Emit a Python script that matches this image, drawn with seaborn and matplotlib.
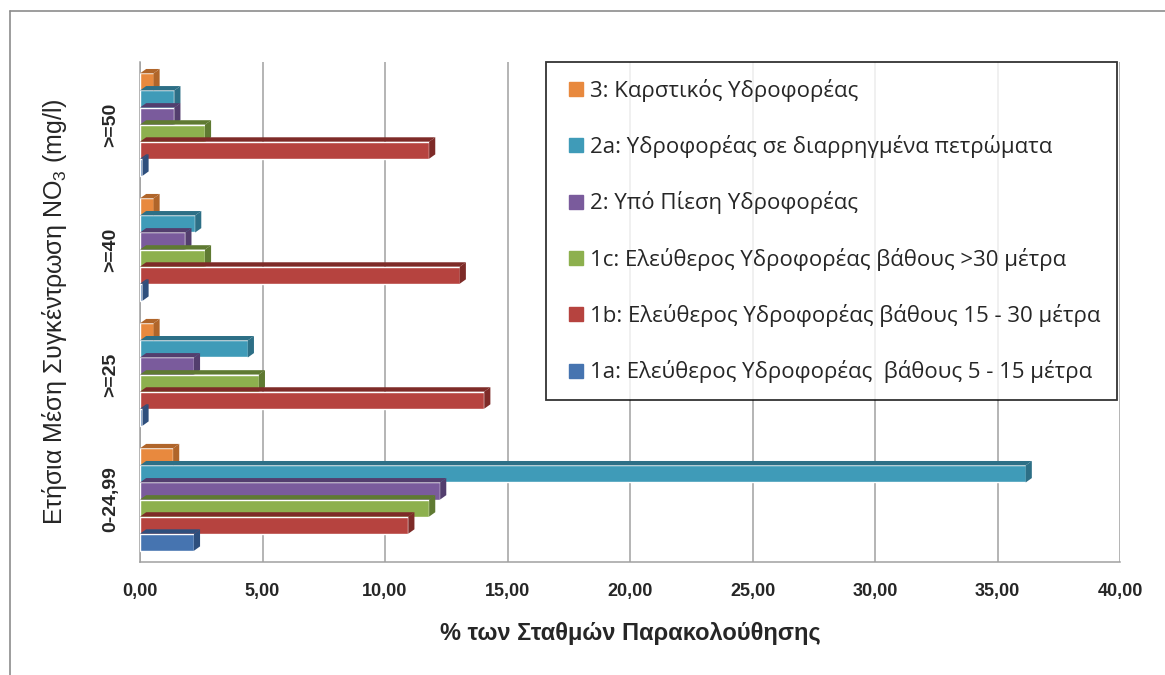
import pandas as pd
import matplotlib.pyplot as plt
import seaborn as sns
from matplotlib.patches import Polygon
from matplotlib.lines import Line2D

# -----------------------------
# Data
# -----------------------------
categories = [">=50", ">=40", ">=25", "0-24,99"]

series = [
    "3: Καρστικός Υδροφορέας",
    "2a: Υδροφορέας σε διαρρηγμένα πετρώματα",
    "2: Υπό Πίεση Υδροφορέας",
    "1c: Ελεύθερος Υδροφορέας βάθους >30 μέτρα",
    "1b: Ελεύθερος Υδροφορέας βάθους 15 - 30 μέτρα",
    "1a: Ελεύθερος Υδροφορέας  βάθους 5 - 15 μέτρα",
]

# values per series, in the order of categories
vals_3 = [0.55, 0.55, 0.55, 1.35]
vals_2a = [1.40, 2.25, 4.40, 36.15]
vals_2 = [1.40, 1.85, 2.20, 12.25]
vals_1c = [2.65, 2.65, 4.85, 11.80]
vals_1b = [11.80, 13.05, 14.05, 10.95]
vals_1a = [0.10, 0.10, 0.10, 2.20]

colors = ["#E8893E", "#3F9BB8", "#7A5B9C", "#8DB04E", "#B6433F", "#4674B0"]
side_colors = ["#B0652A", "#2D6F86", "#533E6E", "#5F7A32", "#7E2B28", "#2E4F7D"]

tick_vals = [0, 5, 10, 15, 20, 25, 30, 35, 40]
tick_labels = ["0,00", "5,00", "10,00", "15,00", "20,00", "25,00", "30,00", "35,00", "40,00"]

all_vals = [vals_3, vals_2a, vals_2, vals_1c, vals_1b, vals_1a]
rows = []
for s, v in zip(series, all_vals):
    for c, x in zip(categories, v):
        rows.append({"cat": c, "series": s, "value": x})
df = pd.DataFrame(rows)

# -----------------------------
# Plot
# -----------------------------
sns.set_style("white")
plt.rcParams["font.family"] = ["Liberation Sans", "DejaVu Sans"]
narrow = ["Liberation Sans Narrow", "Liberation Sans", "DejaVu Sans"]

fig = plt.figure(figsize=(11.65, 6.75), dpi=100)
ax = fig.add_axes([0.1202, 0.1674, 0.8412, 0.7406])

sns.barplot(data=df, y="cat", x="value", hue="series", order=categories,
            hue_order=series, palette=colors, orient="h", width=0.82,
            saturation=1, ax=ax, legend=False, zorder=3)

# fake 3D: darker top and side faces derived from each bar
dx, dy = 0.25, 0.035
for i, bars in enumerate(ax.containers):
    for p in bars:
        x0, y0 = p.get_x(), p.get_y()
        w, h = p.get_width(), p.get_height()
        top = Polygon([(x0, y0), (x0 + dx, y0 - dy), (x0 + w + dx, y0 - dy), (x0 + w, y0)],
                      closed=True, fc=side_colors[i], ec="none", zorder=3)
        side = Polygon([(x0 + w, y0), (x0 + w + dx, y0 - dy), (x0 + w + dx, y0 + h - dy), (x0 + w, y0 + h)],
                       closed=True, fc=side_colors[i], ec="none", zorder=3)
        ax.add_patch(top)
        ax.add_patch(side)

ax.set_xlim(0, 40)
ax.set_ylim(3.5, -0.5)
ax.set_xticks(tick_vals)
ax.set_xticklabels(tick_labels, fontsize=13, fontweight="bold", family=narrow)
for lbl in ax.get_yticklabels():
    lbl.set_rotation(90)
    lbl.set_va("center")
    lbl.set_fontsize(14)
    lbl.set_fontweight("bold")
    lbl.set_family(narrow)

ax.grid(axis="x", color="#A0A0A0", linewidth=1.1, zorder=0)
ax.grid(axis="y", visible=False)
for side in ["top", "right"]:
    ax.spines[side].set_visible(False)
ax.spines["left"].set_color("#A0A0A0")
ax.spines["bottom"].set_color("#A0A0A0")
ax.spines["left"].set_linewidth(1.1)
ax.spines["bottom"].set_linewidth(1.1)
ax.tick_params(axis="both", length=5, color="#A0A0A0", pad=10)

ax.set_xlabel("% των Σταθμών Παρακολούθησης", fontsize=17, fontweight="bold",
              family=narrow, labelpad=16)
ax.set_ylabel("Ετήσια Μέση Συγκέντρωση NO$_\\mathregular{3}$ (mg/l)", fontsize=18, labelpad=24)

# legend
handles = [Line2D([], [], marker="s", linestyle="none", markersize=10,
                  markerfacecolor=c, markeredgecolor=c) for c in colors]
leg = ax.legend(handles, series, loc="upper left", bbox_to_anchor=(0.414, 1.0),
                borderaxespad=0, frameon=True, fancybox=False, edgecolor="black",
                labelspacing=1.5, handletextpad=0.05, borderpad=0.75,
                handlelength=1.2, prop={"family": ["Open Sans", "DejaVu Sans"], "size": 16})
leg.get_frame().set_linewidth(1.3)

# outer chart frame (top and left edges)
fig.add_artist(Line2D([10 / 1165, 1.0], [1 - 11 / 675, 1 - 11 / 675], color="#8C8C8C", lw=1.2))
fig.add_artist(Line2D([10 / 1165, 10 / 1165], [0.0, 1 - 11 / 675], color="#8C8C8C", lw=1.2))

plt.savefig("out.png", dpi=100)
